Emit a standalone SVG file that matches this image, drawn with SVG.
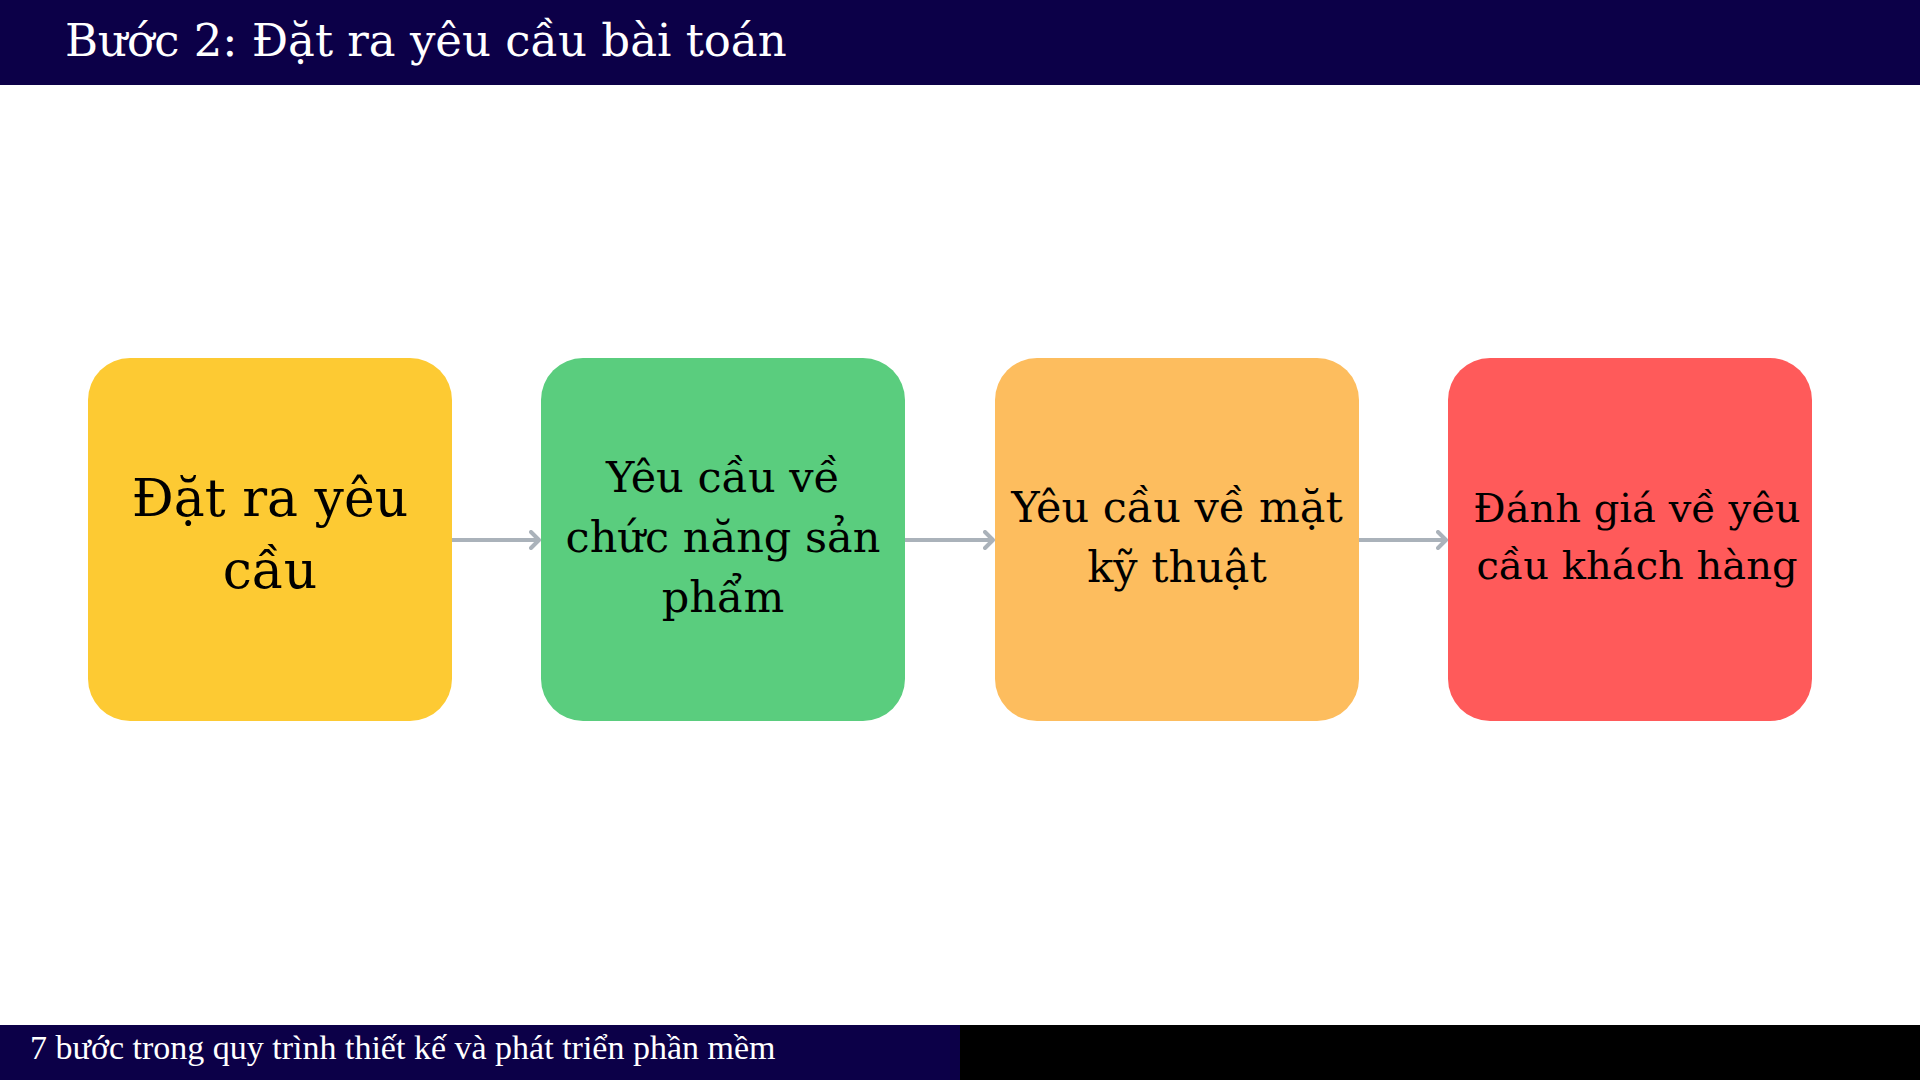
<svg xmlns="http://www.w3.org/2000/svg" width="1920" height="1080" viewBox="0 0 1920 1080">
<defs>
<style>
.box-text{font-family:"DejaVu Serif",serif;fill:#000;text-anchor:middle}
.conn{stroke:#aab2ba;stroke-width:4;fill:none}
</style>
<marker id="arr" viewBox="0 0 12 20" refX="11" refY="10" markerWidth="12" markerHeight="20" markerUnits="userSpaceOnUse" orient="auto">
<path d="M2,2 L10,10 L2,18" fill="none" stroke="#aab2ba" stroke-width="4" stroke-linecap="round" stroke-linejoin="round"/>
</marker>
</defs>
<rect x="0" y="0" width="1920" height="1080" fill="#ffffff"/>
<g id="header">
<rect x="0" y="0" width="1920" height="85" fill="#0c0048"/>
<text x="65" y="56" font-family="DejaVu Serif, serif" font-size="45" fill="#ffffff">Bước 2: Đặt ra yêu cầu bài toán</text>
</g>
<g id="connectors">
<line class="conn" x1="452" y1="540" x2="540" y2="540" marker-end="url(#arr)"/>
<line class="conn" x1="905" y1="540" x2="994" y2="540" marker-end="url(#arr)"/>
<line class="conn" x1="1359" y1="540" x2="1447" y2="540" marker-end="url(#arr)"/>
</g>
<g id="node1">
<rect x="88" y="358" width="364" height="363" rx="42" fill="#fdca33"/>
<text class="box-text" font-size="52"><tspan x="270" y="516">Đặt ra yêu</tspan><tspan x="270" y="588">cầu</tspan></text>
</g>
<g id="node2">
<rect x="541" y="358" width="364" height="363" rx="42" fill="#5acd7e"/>
<text class="box-text" font-size="43"><tspan x="723" y="492">Yêu cầu về</tspan><tspan x="723" y="552">chức năng sản</tspan><tspan x="723" y="612">phẩm</tspan></text>
</g>
<g id="node3">
<rect x="995" y="358" width="364" height="363" rx="42" fill="#fdbd5e"/>
<text class="box-text" font-size="43"><tspan x="1177" y="522">Yêu cầu về mặt</tspan><tspan x="1177" y="582">kỹ thuật</tspan></text>
</g>
<g id="node4">
<rect x="1448" y="358" width="364" height="363" rx="42" fill="#ff5a5a"/>
<text class="box-text" font-size="40"><tspan x="1637" y="522">Đánh giá về yêu</tspan><tspan x="1637" y="579">cầu khách hàng</tspan></text>
</g>
<g id="footer">
<rect x="0" y="1025" width="960" height="55" fill="#0c0048"/>
<rect x="960" y="1025" width="960" height="55" fill="#000000"/>
<text x="30" y="1059" font-family="Liberation Serif, serif" font-size="34" fill="#ffffff">7 bước trong quy trình thiết kế và phát triển phần mềm</text>
</g>
</svg>
